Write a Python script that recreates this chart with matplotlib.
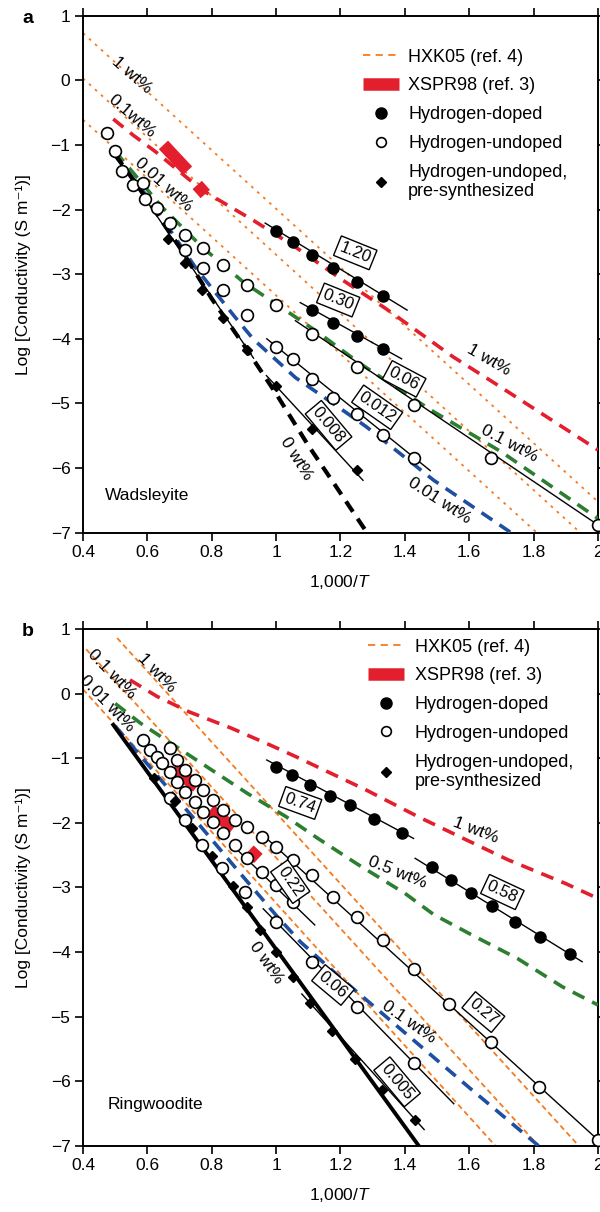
import numpy as np
import matplotlib
matplotlib.use('Agg')
import matplotlib.pyplot as plt
from matplotlib.lines import Line2D
from matplotlib.ticker import FuncFormatter

plt.rcParams['font.family'] = ['Liberation Sans', 'DejaVu Sans']
plt.rcParams['mathtext.fontset'] = 'custom'
plt.rcParams['mathtext.rm'] = 'Liberation Sans'
plt.rcParams['mathtext.it'] = 'Liberation Sans:italic'

RED = '#e31f2e'
GREEN = '#2c7f30'
BLUE = '#1f4fa0'
ORANGE = '#f47b20'

# ---------------- panel a : wadsleyite ----------------
a_hxk_x = [[0.4, 2.0], [0.4, 1.945], [0.4, 1.81]]
a_hxk_y = [[0.73, -6.52], [0.03, -7.0], [-0.61, -7.0]]

a_red_x = [0.494, 0.556, 0.624, 0.77, 0.93, 1.06, 1.2, 1.34, 1.55, 1.68, 2.0]
a_red_y = [-0.6, -0.85, -1.1, -1.7, -2.17, -2.58, -3.07, -3.53, -4.28, -4.69, -5.72]
a_green_x = [0.5, 0.645, 0.77, 0.9, 1.0, 1.127, 1.26, 1.48, 1.7, 2.0]
a_green_y = [-1.1, -1.96, -2.58, -3.13, -3.46, -3.89, -4.38, -5.1, -5.75, -6.78]
a_blue_x = [0.494, 0.6, 0.75, 0.87, 0.93, 1.06, 1.2, 1.28, 1.49, 1.73]
a_blue_y = [-1.13, -1.8, -2.9, -3.65, -4.01, -4.6, -5.08, -5.36, -6.19, -7.0]
a_black_x = [0.5, 0.6, 0.7, 0.8, 0.9, 1.0, 1.1, 1.18, 1.277]
a_black_y = [-1.15, -1.85, -2.58, -3.38, -4.1, -4.85, -5.65, -6.24, -6.96]

a_xspr_x = [[0.65, 0.725], [0.755, 0.78]]
a_xspr_y = [[-1.0, -1.4], [-1.62, -1.76]]

a_doped120_x = [1.0, 1.053, 1.111, 1.176, 1.25, 1.333]
a_doped120_y = [-2.34, -2.5, -2.7, -2.91, -3.12, -3.34]
a_doped030_x = [1.111, 1.176, 1.25, 1.333]
a_doped030_y = [-3.56, -3.76, -3.96, -4.16]

a_open_x = [0.474, 0.5, 0.52, 0.556, 0.587, 0.593, 0.629, 0.67, 0.717, 0.717,
            0.774, 0.774, 0.836, 0.836, 0.909, 0.909]
a_open_y = [-0.82, -1.1, -1.41, -1.62, -1.59, -1.83, -1.98, -2.21, -2.4, -2.63,
            -2.6, -2.91, -2.86, -3.25, -3.17, -3.63]
a_open006_x = [1.0, 1.111, 1.25, 1.429, 1.667, 2.0]
a_open006_y = [-3.48, -3.92, -4.43, -5.03, -5.85, -6.88]
a_open012_x = [1.0, 1.053, 1.111, 1.176, 1.25, 1.333, 1.429]
a_open012_y = [-4.12, -4.32, -4.62, -4.91, -5.17, -5.49, -5.85]

a_dia_x = [0.665, 0.717, 0.769, 0.836, 0.909]
a_dia_y = [-2.45, -2.83, -3.25, -3.68, -4.17]
a_dia008_x = [1.0, 1.111, 1.25]
a_dia008_y = [-4.73, -5.39, -6.03]

a_fit_x = [[0.966, 1.407], [1.075, 1.39], [1.06, 2.0], [0.971, 1.479],
           [0.97, 1.27], [0.5, 0.93]]
a_fit_y = [[-2.21, -3.556], [-3.44, -4.31], [-3.72, -6.88], [-4.0, -6.04],
           [-4.57, -6.19], [-1.15, -4.3]]

# ---------------- panel b : ringwoodite ----------------
b_hxk_x = [[0.506, 1.94], [0.41, 1.815], [0.4, 1.681]]
b_hxk_y = [[0.865, -7.0], [0.69, -7.0], [0.07, -7.0]]

b_red_x = [0.546, 0.63, 0.73, 0.86, 0.98, 1.06, 1.28, 1.44, 1.59, 1.72, 1.9, 2.0]
b_red_y = [0.215, -0.04, -0.28, -0.53, -0.79, -0.97, -1.49, -1.9, -2.26, -2.57, -2.94, -3.17]
b_green_x = [0.5, 0.58, 0.69, 0.8, 0.91, 1.03, 1.13, 1.25, 1.4, 1.49, 1.61, 1.75, 1.89, 2.0]
b_green_y = [-0.15, -0.46, -0.82, -1.18, -1.54, -1.9, -2.24, -2.63, -3.09, -3.42, -3.74,
             -4.1, -4.54, -4.82]
b_blue_x = [0.5, 0.58, 0.77, 0.89, 1.0, 1.075, 1.2, 1.4, 1.6, 1.815]
b_blue_y = [-0.5, -0.97, -2.08, -2.79, -3.43, -3.84, -4.4, -5.25, -6.1, -7.0]
b_black_x = [0.494, 1.443]
b_black_y = [-0.48, -7.0]

b_xspr_x = [[0.681, 0.754], [0.795, 0.867], [0.917, 0.945]]
b_xspr_y = [[-1.153, -1.438], [-1.8, -2.083], [-2.42, -2.55]]

b_doped074_x = [1.0, 1.05, 1.105, 1.166, 1.23, 1.305, 1.39]
b_doped074_y = [-1.128, -1.257, -1.41, -1.58, -1.722, -1.944, -2.15]
b_doped058_x = [1.484, 1.543, 1.606, 1.671, 1.743, 1.819, 1.914]
b_doped058_y = [-2.678, -2.884, -3.09, -3.287, -3.53, -3.77, -4.03]

b_open_x = [0.588, 0.608, 0.629, 0.645, 0.67, 0.691, 0.67, 0.691, 0.717, 0.748,
            0.717, 0.748, 0.774, 0.805, 0.774, 0.805, 0.836, 0.873, 0.836, 0.873,
            0.909, 0.956, 0.67, 0.717, 0.769, 0.831, 0.904]
b_open_y = [-0.715, -0.87, -0.974, -1.076, -0.844, -1.025, -1.206, -1.361, -1.18, -1.335,
            -1.516, -1.67, -1.49, -1.645, -1.826, -1.98, -1.8, -1.954, -2.16, -2.34,
            -2.058, -2.213, -1.618, -1.954, -2.34, -2.7, -3.065]
b_open027_x = [1.0, 1.053, 1.111, 1.176, 1.25, 1.333, 1.429, 1.538, 1.667, 1.818, 2.0]
b_open027_y = [-2.37, -2.57, -2.81, -3.14, -3.45, -3.81, -4.27, -4.8, -5.4, -6.09, -6.91]
b_open022_x = [0.909, 0.956, 1.0, 1.054]
b_open022_y = [-2.55, -2.755, -2.96, -3.22]
b_open006_x = [1.0, 1.111, 1.25, 1.429]
b_open006_y = [-3.53, -4.15, -4.85, -5.72]

b_dia_x = [0.62, 0.685, 0.74, 0.8, 0.867, 0.909, 0.95, 1.0, 1.054]
b_dia_y = [-1.3, -1.66, -2.08, -2.51, -2.98, -3.3, -3.66, -4.0, -4.38]
b_dia005_x = [1.106, 1.173, 1.246, 1.329, 1.432]
b_dia005_y = [-4.79, -5.23, -5.65, -6.14, -6.6]

b_fit_x = [[0.971, 1.427], [1.432, 1.951], [0.975, 2.0], [0.88, 1.12],
           [0.96, 1.552], [1.08, 1.46]]
b_fit_y = [[-1.025, -2.24], [-2.548, -4.15], [-2.26, -6.91], [-2.42, -3.58],
           [-3.33, -6.35], [-4.65, -6.75]]

LEGEND_LABELS = ['HXK05 (ref. 4)', 'XSPR98 (ref. 3)', 'Hydrogen-doped',
                 'Hydrogen-undoped', 'Hydrogen-undoped,\npre-synthesized']


def tick_fmt(v, pos):
    return ('%g' % round(v, 2)).replace('-', '\u2212')


def style_axes(ax):
    ax.set_xlim(0.4, 2.0)
    ax.set_ylim(-7, 1)
    ax.set_xticks(np.arange(0.4, 2.01, 0.2))
    ax.set_yticks(np.arange(-7, 1.01, 1))
    ax.xaxis.set_major_formatter(FuncFormatter(tick_fmt))
    ax.yaxis.set_major_formatter(FuncFormatter(tick_fmt))
    ax.tick_params(direction='out', length=6, width=1.2, top=True, right=True,
                   labelsize=12.5, pad=3)
    for s in ax.spines.values():
        s.set_linewidth(1.4)
    ax.set_xlabel('1,000/$\\it{T}$', fontsize=12.5, labelpad=9.5)
    ax.set_ylabel('Log [Conductivity (S m\u207b\u00b9)]', fontsize=12.5)
    ax.yaxis.set_label_coords(-0.10, 0.5)


def hxk(ax, xs, ys, dashes):
    for x, y in zip(xs, ys):
        ax.plot(x, y, color=ORANGE, lw=1.3, dashes=dashes, zorder=2)


def model(ax, x, y, color):
    ax.plot(x, y, color=color, lw=2.6, dashes=(3.6, 2.4), zorder=3)


def xspr(ax, xs, ys):
    for x, y in zip(xs, ys):
        ax.plot(x, y, color=RED, lw=9, solid_capstyle='butt', zorder=3)


def fits(ax, xs, ys):
    for x, y in zip(xs, ys):
        ax.plot(x, y, color='k', lw=1.0, zorder=4)


def pts(ax, x, y, kind):
    if kind == 'filled':
        ax.plot(x, y, 'o', color='k', ms=8, ls='none', zorder=5, clip_on=False)
    elif kind == 'open':
        ax.plot(x, y, 'o', mfc='white', mec='k', mew=1.2, ms=8.5, ls='none',
                zorder=5, clip_on=False)
    else:
        ax.plot(x, y, 'D', color='k', ms=5, ls='none', zorder=5, clip_on=False)


def box(ax, x, y, s, rot):
    ax.text(x, y, s, rotation=rot, ha='center', va='center', fontsize=12,
            rotation_mode='anchor', zorder=6,
            bbox=dict(boxstyle='square,pad=0.18', fc='white', ec='k', lw=1.0))


def lab(ax, x, y, s, rot):
    ax.text(x, y, s, rotation=rot, ha='center', va='center', fontsize=12.5,
            rotation_mode='anchor', zorder=6)


def legend(ax, anchor, pad):
    handles = [Line2D([], [], color=ORANGE, lw=1.3, dashes=(4, 3)),
               Line2D([], [], color=RED, lw=9, solid_capstyle='butt'),
               Line2D([], [], ls='none', marker='o', color='k', ms=8),
               Line2D([], [], ls='none', marker='o', mfc='white', mec='k', mew=1.2, ms=7),
               Line2D([], [], ls='none', marker='D', color='k', ms=5)]
    ax.legend(handles, LEGEND_LABELS, loc='upper left', bbox_to_anchor=anchor,
              frameon=False, fontsize=13, handlelength=2.0, handletextpad=pad,
              labelspacing=0.65, borderpad=0, borderaxespad=0)


fig = plt.figure(figsize=(6, 12.12), dpi=100)
ax_a = fig.add_axes([0.1383, 0.5605, 0.8583, 0.4266])
ax_b = fig.add_axes([0.1383, 0.0547, 0.8583, 0.4261])

# ----- draw panel a -----
ax = ax_a
hxk(ax, a_hxk_x, a_hxk_y, (1.5, 3))
model(ax, a_red_x, a_red_y, RED)
model(ax, a_green_x, a_green_y, GREEN)
model(ax, a_blue_x, a_blue_y, BLUE)
ax.plot(a_black_x, a_black_y, color='k', lw=3, dashes=(3, 2), zorder=3)
xspr(ax, a_xspr_x, a_xspr_y)
fits(ax, a_fit_x, a_fit_y)
pts(ax, a_doped120_x, a_doped120_y, 'filled')
pts(ax, a_doped030_x, a_doped030_y, 'filled')
pts(ax, a_open_x, a_open_y, 'open')
pts(ax, a_open006_x, a_open006_y, 'open')
pts(ax, a_open012_x, a_open012_y, 'open')
pts(ax, a_dia_x, a_dia_y, 'dia')
pts(ax, a_dia008_x, a_dia008_y, 'dia')
box(ax, 1.246, -2.67, '1.20', -22)
box(ax, 1.193, -3.40, '0.30', -22)
box(ax, 1.398, -4.62, '0.06', -28)
box(ax, 1.314, -5.06, '0.012', -35)
box(ax, 1.163, -5.34, '0.008', -50)
lab(ax, 0.553, 0.08, '1 wt%', -41)
lab(ax, 0.551, -0.56, '0.1wt%', -41)
lab(ax, 0.65, -1.62, '0.01 wt%', -42)
lab(ax, 1.662, -4.33, '1 wt%', -30)
lab(ax, 1.725, -5.62, '0.1 wt%', -28)
lab(ax, 1.507, -6.50, '0.01 wt%', -33)
lab(ax, 1.062, -5.85, '0 wt%', -58)
ax.text(0.468, -6.42, 'Wadsleyite', fontsize=12.5, ha='left', va='center')
legend(ax, (0.544, 0.936), 0.5)
style_axes(ax)

# ----- draw panel b -----
ax = ax_b
hxk(ax, b_hxk_x, b_hxk_y, (3, 2))
model(ax, b_red_x, b_red_y, RED)
model(ax, b_green_x, b_green_y, GREEN)
model(ax, b_blue_x, b_blue_y, BLUE)
ax.plot(b_black_x, b_black_y, color='k', lw=2.8, zorder=3)
xspr(ax, b_xspr_x, b_xspr_y)
fits(ax, b_fit_x, b_fit_y)
pts(ax, b_doped074_x, b_doped074_y, 'filled')
pts(ax, b_doped058_x, b_doped058_y, 'filled')
pts(ax, b_open_x, b_open_y, 'open')
pts(ax, b_open027_x, b_open027_y, 'open')
pts(ax, b_open022_x, b_open022_y, 'open')
pts(ax, b_open006_x, b_open006_y, 'open')
pts(ax, b_dia_x, b_dia_y, 'dia')
pts(ax, b_dia005_x, b_dia005_y, 'dia')
box(ax, 1.075, -1.69, '0.74', -20)
box(ax, 1.703, -3.07, '0.58', -25)
box(ax, 1.644, -4.93, '0.27', -40)
box(ax, 1.044, -2.91, '0.22', -55)
box(ax, 1.177, -4.51, '0.06', -40)
box(ax, 1.376, -6.01, '0.005', -50)
lab(ax, 0.629, 0.32, '1 wt%', -46)
lab(ax, 0.489, 0.31, '0.1 wt%', -46)
lab(ax, 0.474, -0.157, '0.01 wt%', -46)
lab(ax, 1.621, -2.11, '1 wt%', -21)
lab(ax, 1.377, -2.765, '0.5 wt%', -22)
lab(ax, 1.412, -5.08, '0.1 wt%', -35)
lab(ax, 0.968, -4.16, '0 wt%', -55)
ax.text(0.478, -6.354, 'Ringwoodite', fontsize=12.5, ha='left', va='center')
legend(ax, (0.553, 0.982), 0.6)
style_axes(ax)

fig.text(0.037, 0.985, 'a', fontsize=14, fontweight='bold', ha='left', va='center')
fig.text(0.037, 0.479, 'b', fontsize=14, fontweight='bold', ha='left', va='center')

fig.savefig('out.png', dpi=100)
